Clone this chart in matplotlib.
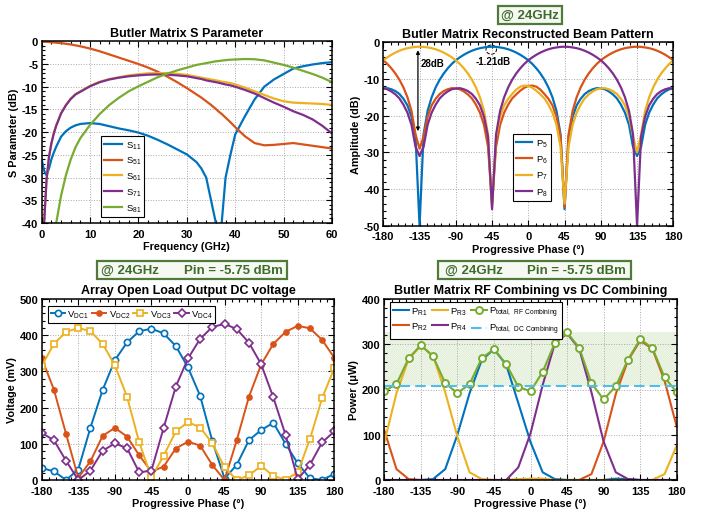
import numpy as np
import matplotlib
matplotlib.use('Agg')
import matplotlib.pyplot as plt
from matplotlib.ticker import MultipleLocator
from matplotlib.patches import Ellipse, Rectangle

# --- S parameters (top left) ---
freq_ghz = [0, 0.5, 1, 1.5, 2, 2.5, 3, 4, 5, 6, 7, 8, 10, 12, 14, 16, 18, 20, 22, 24, 26, 28, 30,
            32, 33, 34, 35, 36, 36.5, 37.2, 38, 39, 40, 42, 44, 46, 48, 50, 52, 54, 56, 58, 60]
s11_db = [-26, -28.5, -29.5, -28, -26, -24.5, -23.2, -21, -19.8, -19, -18.5, -18.2, -18.0, -18.2,
          -18.7, -19.2, -19.6, -20.1, -20.8, -21.7, -22.7, -23.8, -24.9, -26.6, -28, -30, -35, -40,
          -48, -40, -30, -25, -20.5, -16.5, -12.8, -10, -8.4, -7.2, -6.0, -5.5, -5.1, -4.8, -4.6]
s51_db = [-0.1, -0.1, -0.12, -0.15, -0.2, -0.25, -0.3, -0.4, -0.55, -0.7, -0.9, -1.1, -1.6, -2.2,
          -2.9, -3.6, -4.3, -5.0, -5.8, -6.7, -7.8, -9.0, -10.3, -11.7, -12.4, -13.2, -14.0, -14.9,
          -15.4, -16.0, -16.8, -17.8, -18.9, -20.9, -22.4, -22.9, -22.8, -22.6, -22.4, -22.7, -23.0,
          -23.3, -23.6]
s61_db = [-60, -40, -30.5, -25.5, -22.5, -20.2, -18.5, -15.8, -14.0, -12.6, -11.6, -11.0, -9.8,
          -8.9, -8.3, -7.9, -7.5, -7.25, -7.05, -7.0, -7.0, -7.15, -7.4, -7.8, -8.0, -8.2, -8.4,
          -8.6, -8.7, -8.9, -9.0, -9.2, -9.5, -10.2, -11.0, -11.8, -12.6, -13.2, -13.5, -13.6,
          -13.7, -13.8, -14.0]
s71_db = [-60, -40, -30.5, -25.5, -22.5, -20.3, -18.6, -15.9, -14.1, -12.7, -11.7, -11.1, -9.9,
          -9.0, -8.4, -8.0, -7.7, -7.5, -7.35, -7.3, -7.35, -7.5, -7.7, -8.1, -8.3, -8.6, -8.8,
          -9.0, -9.1, -9.3, -9.5, -9.7, -10.0, -10.7, -11.5, -12.5, -13.5, -14.4, -15.4, -16.2,
          -17.2, -18.6, -20.3]
s81_db = [-60, -60, -60, -55, -50, -45, -40, -34, -29.5, -26, -23.3, -21.3, -18.4, -16.0, -14.0,
          -12.4, -11.0, -9.9, -8.9, -7.9, -7.1, -6.4, -5.8, -5.2, -5.0, -4.8, -4.6, -4.4, -4.35,
          -4.25, -4.15, -4.05, -4.0, -3.9, -3.95, -4.2, -4.7, -5.2, -5.8, -6.5, -7.2, -8.0, -9.0]

# --- beam pattern (top right), sampled every 5 deg from -180 to 180 ---
beam_phase = np.arange(-180, 181, 5)
p5_db = [-12.6, -12.5, -12.8, -13.3, -14.1, -15.4, -17.2, -20.3, -25.7, -50.0,
         -25.1, -18.7, -15.0, -12.3, -10.2, -8.5, -7.1, -5.9, -4.9, -4.1,
         -3.4, -2.8, -2.3, -1.9, -1.6, -1.4, -1.25, -1.2, -1.25, -1.4,
         -1.6, -1.9, -2.3, -2.8, -3.4, -4.1, -4.9, -5.9, -7.1, -8.5,
         -10.2, -12.3, -15.0, -18.7, -25.1, -45.5, -25.7, -20.3, -17.2, -15.4,
         -14.1, -13.3, -12.8, -12.5, -12.6, -12.8, -13.4, -14.2, -15.3, -17.0,
         -19.2, -22.5, -28.5, -31.0, -28.5, -22.5, -19.2, -17.0, -15.3, -14.2,
         -13.4, -12.8, -12.6]
p6_db = [-4.9, -5.9, -7.1, -8.5, -10.2, -12.3, -15.0, -18.7, -25.1, -29.0,
         -25.7, -20.3, -17.2, -15.4, -14.1, -13.3, -12.8, -12.5, -12.6, -12.8,
         -13.4, -14.2, -15.3, -17.0, -19.2, -22.5, -28.5, -44.0, -28.5, -22.5,
         -19.2, -17.0, -15.3, -14.2, -13.2, -12.4, -11.9, -11.8, -12.1, -12.9,
         -14.1, -15.4, -17.2, -20.3, -25.7, -45.0, -25.1, -18.7, -15.0, -12.3,
         -10.2, -8.5, -7.1, -5.9, -4.9, -4.1, -3.4, -2.8, -2.3, -1.9,
         -1.6, -1.4, -1.25, -1.2, -1.25, -1.4, -1.6, -1.9, -2.3, -2.8,
         -3.4, -4.1, -4.9]
p7_db = [-4.9, -4.1, -3.4, -2.8, -2.3, -1.9, -1.6, -1.4, -1.25, -1.2,
         -1.25, -1.4, -1.6, -1.9, -2.3, -2.8, -3.4, -4.1, -4.9, -5.9,
         -7.1, -8.5, -10.2, -12.3, -15.0, -18.7, -25.1, -45.0, -25.7, -20.3,
         -17.2, -15.4, -14.1, -12.9, -12.1, -11.8, -11.9, -12.4, -13.2, -14.2,
         -15.3, -17.0, -19.2, -22.5, -28.5, -44.0, -28.5, -22.5, -19.2, -17.0,
         -15.3, -14.2, -13.4, -12.8, -12.6, -12.5, -12.8, -13.3, -14.1, -15.4,
         -17.2, -20.3, -25.7, -30.0, -25.1, -18.7, -15.0, -12.3, -10.2, -8.5,
         -7.1, -5.9, -4.9]
p8_db = [-12.6, -12.8, -13.4, -14.2, -15.3, -17.0, -19.2, -22.5, -28.5, -31.0,
         -28.5, -22.5, -19.2, -17.0, -15.3, -14.2, -13.4, -12.8, -12.6, -12.5,
         -12.8, -13.3, -14.1, -15.4, -17.2, -20.3, -25.7, -45.5, -25.1, -18.7,
         -15.0, -12.3, -10.2, -8.5, -7.1, -5.9, -4.9, -4.1, -3.4, -2.8,
         -2.3, -1.9, -1.6, -1.4, -1.25, -1.2, -1.25, -1.4, -1.6, -1.9,
         -2.3, -2.8, -3.4, -4.1, -4.9, -5.9, -7.1, -8.5, -10.2, -12.3,
         -15.0, -18.7, -25.1, -50.0, -25.7, -20.3, -17.2, -15.4, -14.1, -13.3,
         -12.8, -12.5, -12.6]

# --- measured sweeps, every 15 deg ---
phase_deg = list(range(-180, 181, 15))
vdc1 = [33, 24, 0, 29, 145, 249, 331, 380, 411, 418, 405, 370, 311, 232, 107, 4, 42, 110, 138, 158, 100, 46, 5, 0, 17]
vdc2 = [336, 250, 127, 6, 52, 122, 144, 120, 68, 23, 37, 87, 106, 95, 41, 0, 110, 230, 319, 376, 409, 426, 419, 387, 338]
vdc3 = [315, 376, 409, 420, 411, 376, 317, 230, 104, 7, 67, 134, 160, 145, 101, 35, 0, 13, 39, 11, 1, 21, 113, 226, 309]
vdc4 = [130, 110, 53, 0, 26, 81, 101, 88, 21, 26, 144, 258, 336, 390, 423, 431, 417, 379, 320, 228, 125, 2, 42, 104, 134]

pr1 = [0, 0, 0, 0, 2, 24, 100, 192, 265, 289, 255, 170, 84, 17, 2, 0, 0, 0, 0, 3, 2, 0, 0, 0, 0]
pr2 = [110, 24, 2, 0, 0, 0, 0, 0, 0, 0, 0, 0, 0, 0, 0, 0, 0, 13, 85, 190, 264, 308, 290, 220, 118]
pr3 = [83, 192, 267, 297, 275, 194, 96, 17, 2, 0, 0, 2, 3, 3, 0, 0, 0, 0, 0, 0, 0, 0, 0, 13, 76]
pr4 = [0, 0, 0, 0, 0, 0, 0, 0, 0, 0, 0, 28, 103, 210, 302, 324, 290, 194, 85, 17, 2, 0, 0, 0, 0]
ptot_rf = [196, 212, 269, 298, 273, 214, 192, 212, 269, 289, 256, 206, 196, 239, 303, 326, 292, 214, 178, 207, 266, 311, 292, 227, 194]
ptot_dc = 207

BLUE, ORANGE, YELLOW = '#0072BD', '#D95319', '#EDB120'
PURPLE, GREEN, CYAN = '#7E2F8E', '#77AC30', '#4DBEEE'
DKGREEN = '#3f6b2d'

plt.rcParams['font.family'] = ['Liberation Sans', 'DejaVu Sans']
plt.rcParams['font.weight'] = 'bold'
plt.rcParams['axes.labelweight'] = 'bold'
plt.rcParams['axes.titleweight'] = 'bold'
plt.rcParams['axes.unicode_minus'] = False
plt.rcParams['mathtext.default'] = 'regular'
plt.rcParams['hatch.linewidth'] = 0.45

W, H = 702, 510
fig = plt.figure(figsize=(W / 100, H / 100), dpi=100)


def px_axes(x0, y0, x1, y1):
    return fig.add_axes([x0 / W, 1 - y1 / H, (x1 - x0) / W, (y1 - y0) / H])


def style(ax, xmaj, xmin, ymaj, ymin):
    ax.xaxis.set_major_locator(MultipleLocator(xmaj))
    ax.xaxis.set_minor_locator(MultipleLocator(xmin))
    ax.yaxis.set_major_locator(MultipleLocator(ymaj))
    ax.yaxis.set_minor_locator(MultipleLocator(ymin))
    ax.grid(True, which='major', linestyle=':', color='#a8a8a8', linewidth=0.7)
    ax.tick_params(which='both', direction='in', top=True, right=True, labelsize=8, width=0.8)
    ax.tick_params(which='major', length=4)
    ax.tick_params(axis='x', which='major', pad=4)
    ax.tick_params(axis='y', which='major', pad=2.5)
    ax.tick_params(which='minor', length=2)
    for s in ax.spines.values():
        s.set_linewidth(1.1)


def header(x0, x1, y0, y1, items):
    fig.patches.append(Rectangle((x0 / W, 1 - y1 / H), (x1 - x0) / W, (y1 - y0) / H,
                                 transform=fig.transFigure, facecolor='#f6f9f2',
                                 edgecolor='#4f7a3c', linewidth=1.6))
    for cx, txt in items:
        fig.text(cx / W, 1 - (y0 + y1) / 2 / H, txt, ha='center', va='center',
                 fontsize=9.5, color=DKGREEN, weight='bold')


def legend(ax, **kw):
    leg = ax.legend(fancybox=False, edgecolor='black', framealpha=1,
                    prop={'weight': 'normal', 'size': 6.8}, borderaxespad=0, **kw)
    leg.get_frame().set_linewidth(0.8)
    return leg


TITLE, LABEL = 9, 7.8

# top left
ax1 = px_axes(41.7, 42.3, 332, 224)
ax1.plot(freq_ghz, s11_db, color=BLUE, lw=1.6, label='S$_{11}$')
ax1.plot(freq_ghz, s51_db, color=ORANGE, lw=1.6, label='S$_{51}$')
ax1.plot(freq_ghz, s61_db, color=YELLOW, lw=1.6, label='S$_{61}$')
ax1.plot(freq_ghz, s71_db, color=PURPLE, lw=1.6, label='S$_{71}$')
ax1.plot(freq_ghz, s81_db, color=GREEN, lw=1.6, label='S$_{81}$')
ax1.set_xlim(0, 60)
ax1.set_ylim(-40, 0)
style(ax1, 10, 2, 5, 1)
ax1.set_title('Butler Matrix S Parameter', fontsize=TITLE, pad=4)
ax1.set_xlabel('Frequency (GHz)', fontsize=LABEL, labelpad=2)
ax1.set_ylabel('S Parameter (dB)', fontsize=LABEL, labelpad=2)
legend(ax1, loc='lower left', bbox_to_anchor=(0.203, 0.033), handlelength=1.9,
       handletextpad=0.4, labelspacing=0.45, borderpad=0.35)

# top right
ax2 = px_axes(383.3, 43.3, 673.3, 226.7)
ax2.plot(beam_phase, p5_db, color=BLUE, lw=1.6, label='P$_{5}$')
ax2.plot(beam_phase, p6_db, color=ORANGE, lw=1.6, label='P$_{6}$')
ax2.plot(beam_phase, p7_db, color=YELLOW, lw=1.6, label='P$_{7}$')
ax2.plot(beam_phase, p8_db, color=PURPLE, lw=1.6, label='P$_{8}$')
ax2.set_xlim(-180, 180)
ax2.set_ylim(-50, 0)
style(ax2, 45, 9, 10, 2)
ax2.set_title('Butler Matrix Reconstructed Beam Pattern', fontsize=TITLE, pad=4)
ax2.set_xlabel('Progressive Phase (°)', fontsize=LABEL, labelpad=2)
ax2.set_ylabel('Amplitude (dB)', fontsize=LABEL, labelpad=2)
ax2.annotate('', xy=(-137, -25), xytext=(-137, -1.4),
             arrowprops=dict(arrowstyle='<|-|>', color='black', lw=0.9, mutation_scale=5))
ax2.text(-134, -5.6, '28dB', fontsize=7, ha='left', va='center')
ax2.add_patch(Ellipse((-46, -2.0), 13, 2.5, fill=False, ls='--', lw=0.7, color='black'))
ax2.text(-44, -5.2, '-1.21dB', fontsize=7, ha='center', va='center')
legend(ax2, loc='lower left', bbox_to_anchor=(0.447, 0.135), handlelength=1.7,
       handletextpad=0.4, labelspacing=0.5, borderpad=0.35)
header(498, 562, 6.7, 25, [(530, '@ 24GHz')])

# bottom left
ax3 = px_axes(41.7, 300, 334.3, 481)
ax3.plot(phase_deg, vdc1, color=BLUE, lw=1.4, marker='o', ms=4.5, mfc='white', mew=1.2, label='V$_{DC1}$')
ax3.plot(phase_deg, vdc2, color=ORANGE, lw=1.4, marker='o', ms=3.8, label='V$_{DC2}$')
ax3.plot(phase_deg, vdc3, color=YELLOW, lw=1.4, marker='s', ms=4.5, mfc='white', mew=1.2, label='V$_{DC3}$')
ax3.plot(phase_deg, vdc4, color=PURPLE, lw=1.4, marker='D', ms=4.2, mfc='white', mew=1.2, label='V$_{DC4}$')
ax3.set_xlim(-180, 180)
ax3.set_ylim(0, 500)
style(ax3, 45, 9, 100, 20)
ax3.set_title('Array Open Load Output DC voltage', fontsize=TITLE, pad=4)
ax3.set_xlabel('Progressive Phase (°)', fontsize=LABEL, labelpad=2)
ax3.set_ylabel('Voltage (mV)', fontsize=LABEL, labelpad=2)
legend(ax3, loc='upper left', bbox_to_anchor=(0.0215, 0.963), ncol=4, handlelength=1.5,
       handletextpad=0.25, columnspacing=0.35, borderpad=0.3)
header(96.7, 287, 262, 280, [(130, '@ 24GHz'), (233, 'Pin = -5.75 dBm')])

# bottom right
ax4 = px_axes(384.3, 300, 676.7, 481)
ax4.fill_between([-180, 180], ptot_dc, max(ptot_rf), facecolor='#fbfdf8', edgecolor='#d6e7c8',
                 hatch='/' * 18, linewidth=0, zorder=0.5)
ax4.plot(phase_deg, pr1, color=BLUE, lw=1.5, label='P$_{R1}$')
ax4.plot(phase_deg, pr2, color=ORANGE, lw=1.5, label='P$_{R2}$')
ax4.plot(phase_deg, pr3, color=YELLOW, lw=1.5, label='P$_{R3}$')
ax4.plot(phase_deg, pr4, color=PURPLE, lw=1.5, label='P$_{R4}$')
ax4.plot(phase_deg, ptot_rf, color=GREEN, lw=1.5, marker='o', ms=5, mfc='white', mew=1.4,
         label='P$_{total,\\ RF\\ Combining}$')
ax4.plot([-180, 180], [ptot_dc, ptot_dc], color=CYAN, lw=1.5, ls=(0, (5, 2.5)),
         label='P$_{total,\\ DC\\ Combining}$')
ax4.set_xlim(-180, 180)
ax4.set_ylim(0, 400)
style(ax4, 45, 9, 100, 20)
ax4.set_title('Butler Matrix RF Combining vs DC Combining', fontsize=TITLE, pad=4)
ax4.set_xlabel('Progressive Phase (°)', fontsize=LABEL, labelpad=2)
ax4.set_ylabel('Power (μW)', fontsize=LABEL, labelpad=2)
legend(ax4, loc='upper left', bbox_to_anchor=(0.0195, 0.983), ncol=3, handlelength=1.7,
       handletextpad=0.25, columnspacing=0.4, borderpad=0.3, labelspacing=0.35)
header(438, 631, 262, 280, [(474, '@ 24GHz'), (576, 'Pin = -5.75 dBm')])

fig.savefig('out.png', dpi=100)
